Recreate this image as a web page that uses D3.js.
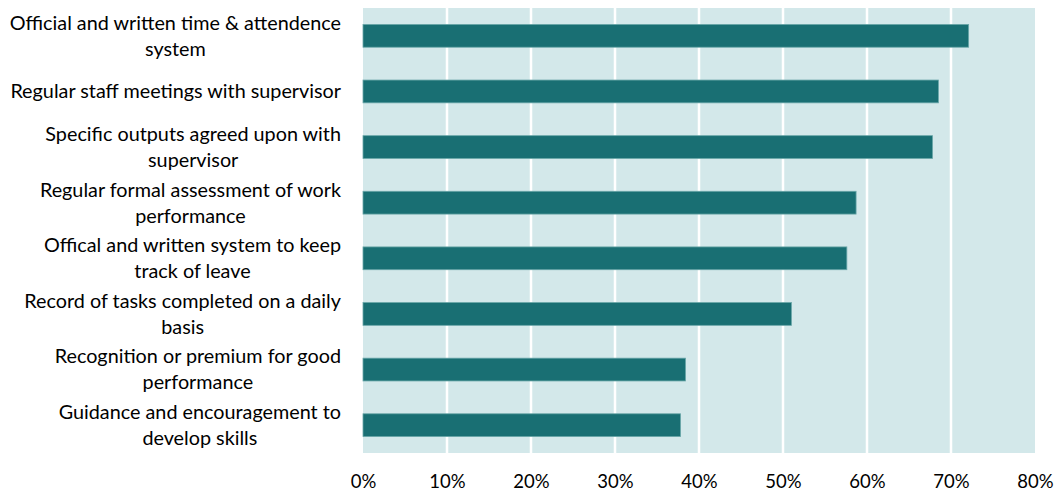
<!DOCTYPE html>
<html>
<head>
<meta charset="utf-8">
<script src="https://cdn.jsdelivr.net/npm/d3@7"></script>
<style>
  body { margin: 0; background: #fff; }
  text { font-family: Lato, "Open Sans", sans-serif; fill: #000; }
</style>
</head>
<body>
<div id="chart"></div>
<script>
var categories = [
    "Official and written time & attendence\nsystem",
    "Regular staff meetings with supervisor",
    "Specific outputs agreed upon with\nsupervisor",
    "Regular formal assessment of work\nperformance",
    "Offical and written system to keep\ntrack of leave",
    "Record of tasks completed on a daily\nbasis",
    "Recognition or premium for good\nperformance",
    "Guidance and encouragement to\ndevelop skills"
];
var values = [72.1, 68.5, 67.8, 58.7, 57.6, 51.0, 38.4, 37.8];
var tickValues = [0, 10, 20, 30, 40, 50, 60, 70, 80];

var width = 1059, height = 496,
    marginLeft = 363, marginTop = 8,
    plotW = 672, plotH = 445;

var svg = d3.select("#chart")
            .append("svg")
              .attr("width", width)
              .attr("height", height);

var g = svg.append("g")
           .attr("transform", "translate(" + marginLeft + "," + marginTop + ")");

var x = d3.scaleLinear()
          .domain([0, 80])
          .range([0, plotW]);

var y = d3.scaleBand()
          .domain(categories)
          .range([0, plotH])
          .paddingInner(0.59)
          .paddingOuter(0.295);

// plot background
g.append("rect")
    .attr("width", plotW)
    .attr("height", plotH)
    .style("fill", "#d3e8ea");

// white vertical gridlines
g.selectAll("line.grid")
    .data(tickValues.filter(function(d){ return d > 0 && d < 80; }))
    .enter()
    .append("line")
      .attr("class", "grid")
      .attr("x1", function(d){ return x(d); })
      .attr("x2", function(d){ return x(d); })
      .attr("y1", 0)
      .attr("y2", plotH)
      .style("stroke", "#fff")
      .style("stroke-width", 2.5);

// bars
g.selectAll("rect.bar")
    .data(values)
    .enter()
    .append("rect")
      .attr("class", "bar")
      .attr("x", 0)
      .attr("y", function(d, i){ return y(categories[i]); })
      .attr("width", function(d){ return x(d); })
      .attr("height", y.bandwidth())
      .style("fill", "#196f73")
      .style("stroke", "#6aa7a9")
      .style("stroke-width", 0.8);

// x axis
var xAxis = d3.axisBottom(x)
    .tickValues(tickValues)
    .tickSize(0)
    .tickPadding(22)
    .tickFormat(function(d){ return d + "%"; });

var ax = g.append("g")
    .attr("transform", "translate(0," + plotH + ")")
    .call(xAxis);
ax.select(".domain").remove();
ax.selectAll("text")
    .style("font-size", "18.5px")
    .style("font-family", "Lato, sans-serif")
    .style("fill", "#000");

// category labels: block right-aligned, lines centred inside the block
var lineH = 26;
categories.forEach(function(c, i){
    var lines = c.split("\n");
    var cy = marginTop + y(c) + y.bandwidth() / 2;
    var t = svg.append("text")
        .style("font-size", "19.8px")
        .attr("text-anchor", "middle");
    var spans = lines.map(function(l, j){
        return t.append("tspan")
            .attr("y", cy + (j - (lines.length - 1) / 2) * lineH)
            .attr("dy", "0.35em")
            .text(l);
    });
    var maxW = d3.max(spans, function(s){ return s.node().getComputedTextLength(); });
    spans.forEach(function(s){ s.attr("x", 341 - maxW / 2); });
});
</script>
</body>
</html>
